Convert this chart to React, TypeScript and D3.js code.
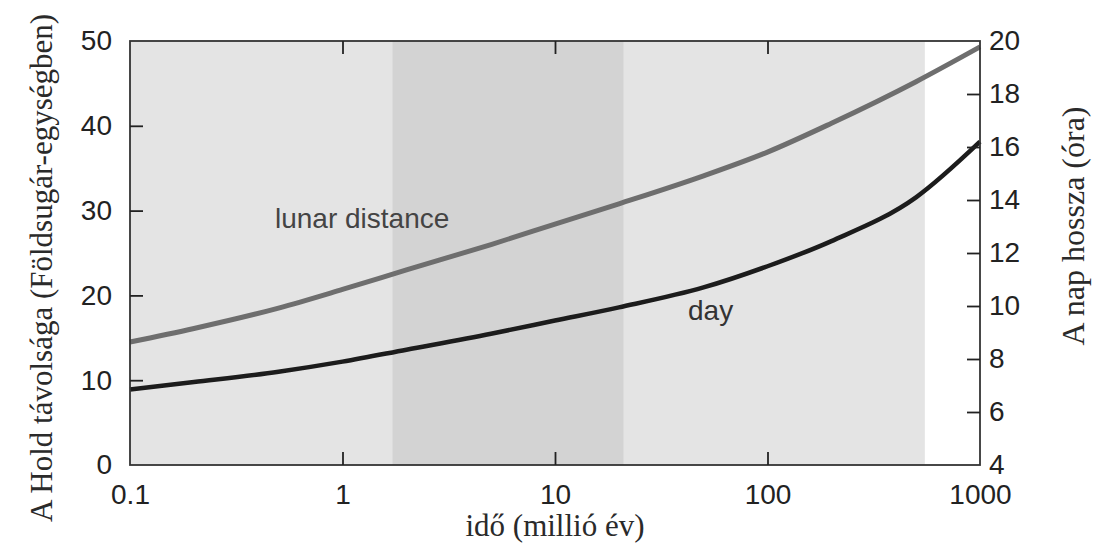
import React, { useRef, useEffect } from "react";
import * as d3 from "d3";

// idő (millió év) – log skála
const times = [0.1, 0.2, 0.5, 1, 2, 5, 10, 20, 50, 100, 200, 500, 1000];
// Hold távolsága (Földsugár)
const lunarDistance = [14.5, 16.1, 18.5, 20.7, 23.0, 26.0, 28.4, 30.8, 34.1, 36.9, 40.3, 45.2, 49.3];
// nap hossza (óra)
const dayLength = [6.85, 7.13, 7.52, 7.9, 8.35, 8.95, 9.45, 9.95, 10.7, 11.5, 12.45, 14.1, 16.2];

const xTicks = [0.1, 1, 10, 100, 1000];
const leftTicks = [0, 10, 20, 30, 40, 50];
const rightTicks = [4, 6, 8, 10, 12, 14, 16, 18, 20];

// szürke sávok (millió év)
const lightBand = [0.1, 550];
const darkBand = [1.72, 21];

const App = () => {
  const svgRef = useRef<SVGSVGElement>(null);

  useEffect(() => {
    const svg = d3.select(svgRef.current);
    svg.selectAll("*").remove();

    const left = 130, right = 980, top = 41, bottom = 465;
    const tickLen = 13;
    const sans = "'Liberation Sans', Arial, sans-serif";
    const serif = "'Liberation Serif', 'DejaVu Serif', serif";

    const x = d3.scaleLog().domain([0.1, 1000]).range([left, right]);
    const yL = d3.scaleLinear().domain([0, 50]).range([bottom, top]);
    const yR = d3.scaleLinear().domain([4, 20]).range([bottom, top]);

    // háttér sávok
    svg.append("rect")
      .attr("x", x(lightBand[0])).attr("y", top)
      .attr("width", x(lightBand[1]) - x(lightBand[0])).attr("height", bottom - top)
      .attr("fill", "#e4e4e4");
    svg.append("rect")
      .attr("x", x(darkBand[0])).attr("y", top)
      .attr("width", x(darkBand[1]) - x(darkBand[0])).attr("height", bottom - top)
      .attr("fill", "#d3d3d3");

    // görbék
    const lunarLine = d3.line<number>()
      .x((_, i) => x(times[i]))
      .y((d) => yL(d))
      .curve(d3.curveMonotoneX);
    const dayLine = d3.line<number>()
      .x((_, i) => x(times[i]))
      .y((d) => yR(d))
      .curve(d3.curveMonotoneX);

    svg.append("path").attr("d", lunarLine(lunarDistance))
      .attr("fill", "none").attr("stroke", "#6e6e6e").attr("stroke-width", 5);
    svg.append("path").attr("d", dayLine(dayLength))
      .attr("fill", "none").attr("stroke", "#1c1c1c").attr("stroke-width", 4.5);

    // keret
    svg.append("rect")
      .attr("x", left).attr("y", top)
      .attr("width", right - left).attr("height", bottom - top)
      .attr("fill", "none").attr("stroke", "#333").attr("stroke-width", 1.8);

    // tengelyek (befelé mutató jelek)
    const axisStyle = (g: any) => {
      g.select(".domain").remove();
      g.selectAll(".tick line").attr("stroke", "#222").attr("stroke-width", 1.8);
      g.selectAll(".tick text").attr("fill", "#222").style("font-family", sans).style("font-size", "28px");
    };

    svg.append("g")
      .attr("transform", `translate(0,${bottom})`)
      .call(d3.axisBottom(x).tickValues(xTicks).tickFormat((d: any) => String(d))
        .tickSizeInner(-tickLen).tickSizeOuter(0).tickPadding(19))
      .call(axisStyle)
      .call((g: any) => g.selectAll(".tick").filter((d: any) => d === 0.1 || d === 1000).select("line").remove());

    svg.append("g")
      .attr("transform", `translate(0,${top})`)
      .call(d3.axisTop(x).tickValues([1, 10, 100]).tickFormat(() => "")
        .tickSizeInner(-tickLen).tickSizeOuter(0))
      .call(axisStyle);

    svg.append("g")
      .attr("transform", `translate(${left},0)`)
      .call(d3.axisLeft(yL).tickValues(leftTicks).tickFormat(d3.format("d"))
        .tickSizeInner(-tickLen).tickSizeOuter(0).tickPadding(18))
      .call(axisStyle)
      .call((g: any) => g.selectAll(".tick").filter((d: any) => d === 0 || d === 50).select("line").remove());

    svg.append("g")
      .attr("transform", `translate(${right},0)`)
      .call(d3.axisRight(yR).tickValues(rightTicks).tickFormat(d3.format("d"))
        .tickSizeInner(-tickLen).tickSizeOuter(0).tickPadding(9))
      .call(axisStyle)
      .call((g: any) => g.selectAll(".tick").filter((d: any) => d === 4 || d === 20).select("line").remove());

    // feliratok a görbéken
    svg.append("text").attr("x", 275).attr("y", 228)
      .style("font-family", sans).style("font-size", "28px").attr("fill", "#444")
      .text("lunar distance");
    svg.append("text").attr("x", 688).attr("y", 320)
      .style("font-family", sans).style("font-size", "28px").attr("fill", "#333")
      .text("day");

    // tengelycímek
    svg.append("text")
      .attr("transform", `translate(52,${268}) rotate(-90)`)
      .attr("text-anchor", "middle")
      .style("font-family", serif).style("font-size", "31px").attr("fill", "#2a2a2a")
      .text("A Hold távolsága (Földsugár-egységben)");
    svg.append("text")
      .attr("transform", `translate(1084,${226}) rotate(-90)`)
      .attr("text-anchor", "middle")
      .style("font-family", serif).style("font-size", "32px").attr("fill", "#2a2a2a")
      .text("A nap hossza (óra)");
    svg.append("text")
      .attr("x", 555).attr("y", 536)
      .attr("text-anchor", "middle")
      .style("font-family", serif).style("font-size", "31px").attr("fill", "#2a2a2a")
      .text("idő (millió év)");
  }, []);

  return (
    <svg
      ref={svgRef}
      width={1096}
      height={546}
      style={{ position: "absolute", left: 0, top: 0, background: "#fff" }}
    />
  );
};

export default App;
